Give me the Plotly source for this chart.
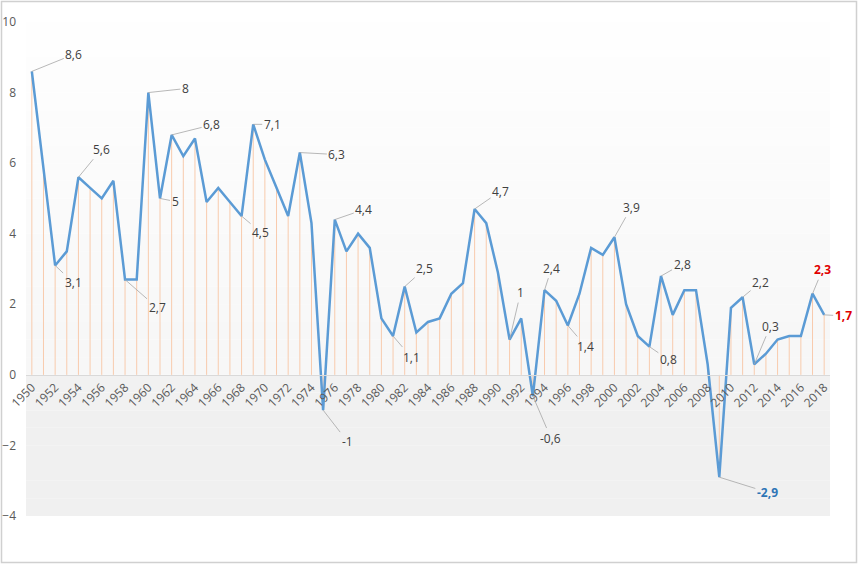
import plotly.graph_objects as go

# ---- data ----
years = list(range(1950, 2019))
growth = [8.6, 5.8, 3.1, 3.5, 5.6, 5.3, 5.0, 5.5, 2.7, 2.7,
          8.0, 5.0, 6.8, 6.2, 6.7, 4.9, 5.3, 4.9, 4.5, 7.1,
          6.1, 5.3, 4.5, 6.3, 4.3, -1.0, 4.4, 3.5, 4.0, 3.6,
          1.6, 1.1, 2.5, 1.2, 1.5, 1.6, 2.3, 2.6, 4.7, 4.3,
          2.9, 1.0, 1.6, -0.6, 2.4, 2.1, 1.4, 2.3, 3.6, 3.4,
          3.9, 2.0, 1.1, 0.8, 2.8, 1.7, 2.4, 2.4, 0.3, -2.9,
          1.9, 2.2, 0.3, 0.6, 1.0, 1.1, 1.1, 2.3, 1.7]

tick_years = years[::2]
tick_labels = [str(y) for y in tick_years]
y_ticks = [-4, -2, 0, 2, 4, 6, 8, 10]

# labelled points: year -> (dx, dy) offset in pixels of label centre
label_years = [1950, 1952, 1954, 1958, 1960, 1961, 1962, 1968, 1969, 1973,
               1975, 1976, 1981, 1982, 1988, 1991, 1993, 1994, 1996, 2000,
               2003, 2004, 2009, 2011, 2012, 2017, 2018]
label_dx = [42, 18, 23, 32, 37, 15, 40, 19, 19, 37,
            24, 29, 18, 20, 26, 11, 18, 7, 18, 17,
            19, 21, 48, 18, 16, 10, 19]
label_dy = [-17, 17, -28, 28, -4, 3, -10, 16, 0, 2,
            31, -10, 21, -18, -18, -47, 42, -22, 21, -30,
            13, -12, 15, -15, -38, -24, 1]
highlight = {2009: '#2e75b6', 2017: '#e00000', 2018: '#e00000'}

# ---- layout geometry ----
W, H = 859, 565
ML, MR, MT, MB = 26, 29, 22, 49
PW, PH = W - ML - MR, H - MT - MB
ymin, ymax = -4, 10
zero_frac = (0 - ymin) / (ymax - ymin)


def fmt(v):
    return f"{v:g}".replace('.', ',')


fig = go.Figure()

# drop lines
dx_, dy_ = [], []
for x, v in zip(years, growth):
    dx_ += [x, x, None]
    dy_ += [0, v, None]
fig.add_trace(go.Scatter(x=dx_, y=dy_, mode='lines',
                         line=dict(color='#f8cbad', width=1),
                         hoverinfo='skip', showlegend=False))

# main line
fig.add_trace(go.Scatter(x=years, y=growth, mode='lines',
                         line=dict(color='#5b9bd5', width=2.5),
                         showlegend=False))

annotations = []
for yr, ddx, ddy in zip(label_years, label_dx, label_dy):
    v = growth[years.index(yr)]
    col = highlight.get(yr, '#404040')
    bold = yr in highlight
    txt = fmt(v)
    if bold:
        txt = '<b>' + txt + '</b>'
    annotations.append(dict(
        x=yr, y=v, xref='x', yref='y', text=txt,
        showarrow=True, arrowhead=0, arrowwidth=0.8, arrowcolor='#a6a6a6',
        ax=ddx, ay=ddy, standoff=0,
        font=dict(family='Open Sans, Arial', size=12, color=col)))

# background gradient bands (plot area)
shapes = []
nb = 28
for i in range(nb):
    y0 = ymin + (ymax - ymin) * i / nb
    y1 = ymin + (ymax - ymin) * (i + 1) / nb
    t = i / (nb - 1)
    if y1 <= 0:
        g = int(240 + 5 * t)
    else:
        g = int(247 + 8 * ((y0 - 0) / ymax))
    g = min(g, 255)
    shapes.append(dict(type='rect', xref='paper', yref='y', x0=0, x1=1,
                       y0=y0, y1=y1, fillcolor=f'rgb({g},{g},{g})',
                       line=dict(width=0), layer='below'))

# outer chart frame
def px_x(p):
    return (p - ML) / PW


def px_y(p):
    return (H - MB - p) / PH


shapes.append(dict(type='rect', xref='paper', yref='paper',
                   x0=px_x(1.5), x1=px_x(856.5), y0=px_y(562.5), y1=px_y(1.5),
                   line=dict(color='#d0d0d0', width=1.5), layer='below'))

fig.update_layout(
    width=W, height=H,
    margin=dict(l=ML, r=MR, t=MT, b=MB, autoexpand=False),
    paper_bgcolor='white', plot_bgcolor='white',
    shapes=shapes, annotations=annotations,
    font=dict(family='Open Sans, Arial', color='#595959'),
    xaxis=dict(range=[1949.5, 2018.5], tickmode='array', tickvals=tick_years,
               ticktext=tick_labels, tickangle=-45, showgrid=False,
               zeroline=False, showline=True, linecolor='#d9d9d9', linewidth=1,
               anchor='free', position=zero_frac, ticks='', automargin=False,
               tickfont=dict(size=12, color='#595959')),
    yaxis=dict(range=[ymin, ymax], tickmode='array', tickvals=y_ticks,
               showgrid=False, zeroline=False, showline=False, ticks='',
               ticklabelstandoff=9, automargin=False,
               tickfont=dict(size=12, color='#595959')),
)

fig.write_html('out.html')
